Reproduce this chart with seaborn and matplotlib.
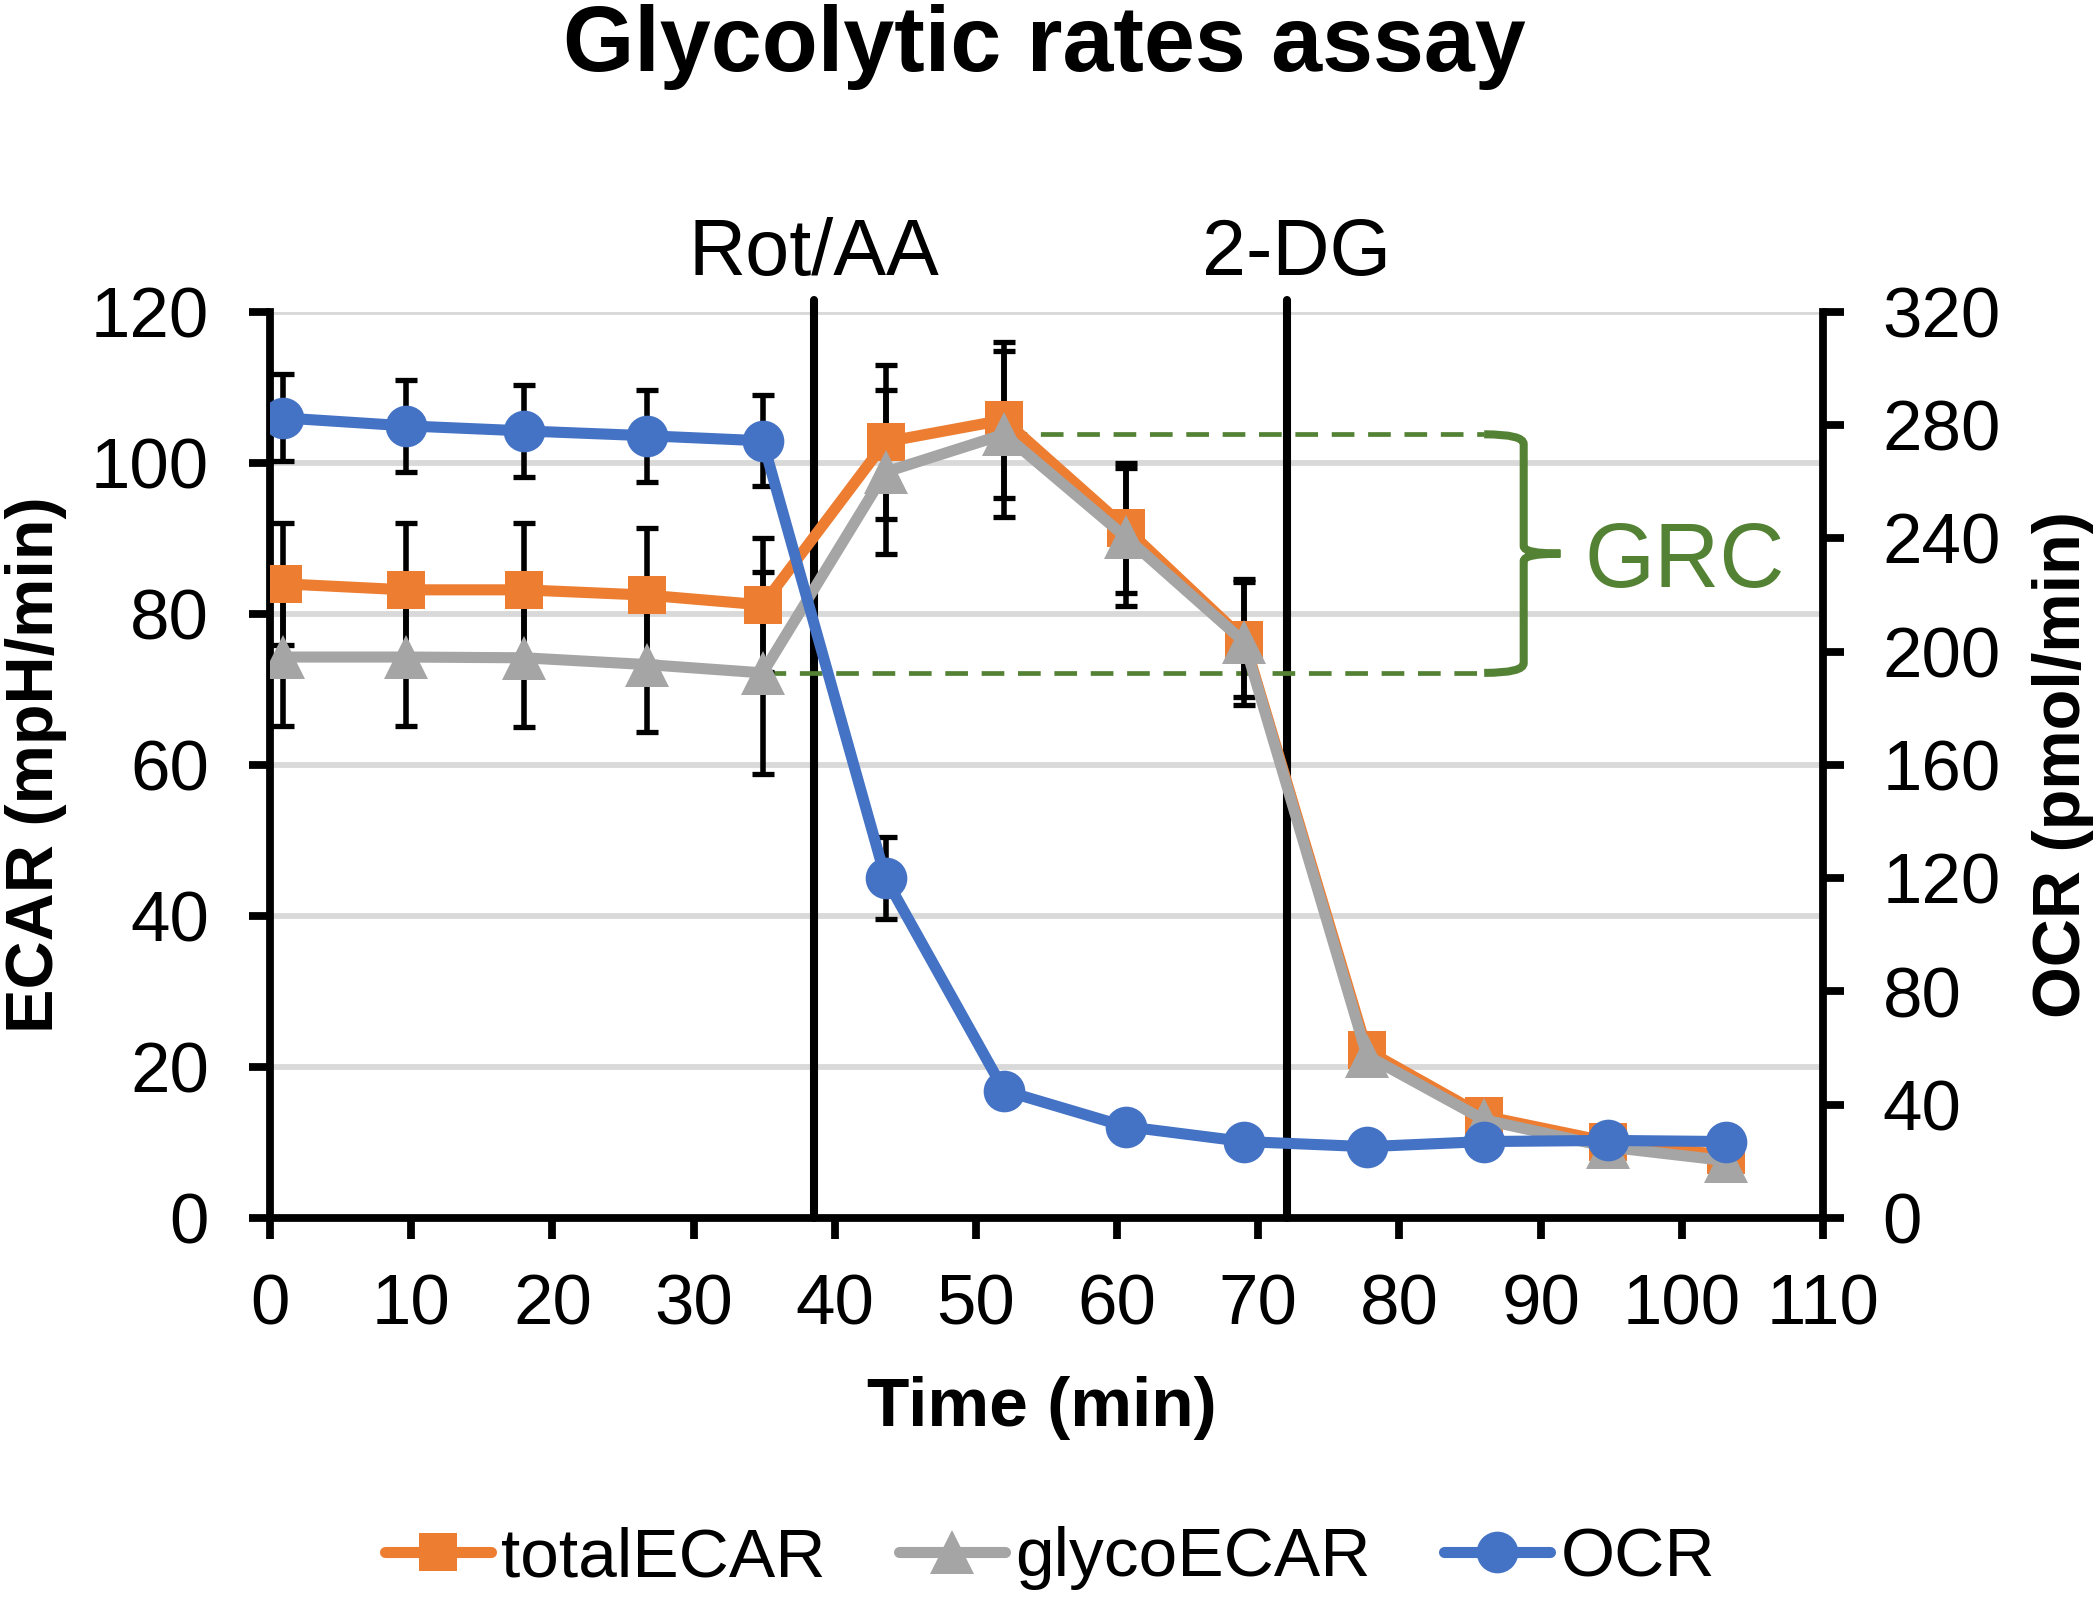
import matplotlib
matplotlib.use("Agg")
import matplotlib.pyplot as plt
import seaborn as sns
from matplotlib.path import Path
from matplotlib.patches import PathPatch
from matplotlib.transforms import blended_transform_factory

# ---------------- data ----------------
time_min = [0.9, 9.6, 18.0, 26.7, 34.9, 43.6, 52.0, 60.6, 69.0, 77.7, 86.0, 94.8, 103.1]
total_ecar = [84.0, 83.2, 83.2, 82.5, 81.2, 102.8, 105.7, 91.4, 76.6, 22.2, 13.5, 10.1, 8.3]
total_ecar_err = [8.1, 8.9, 8.9, 8.9, 8.9, 10.2, 10.3, 8.6, 7.6, 1.5, 1.2, 1.0, 1.0]
glyco_ecar = [74.3, 74.3, 74.2, 73.3, 72.2, 98.8, 103.8, 90.2, 76.3, 21.5, 13.0, 9.4, 7.6]
glyco_ecar_err = [9.2, 9.2, 9.2, 8.9, 13.4, 10.9, 11.0, 9.2, 8.4, 1.5, 1.2, 1.0, 1.0]
ocr = [282.6, 279.8, 278.0, 276.3, 274.5, 120.0, 45.0, 32.3, 27.0, 25.2, 27.0, 27.4, 27.0]
ocr_err = [15.4, 16.3, 16.3, 16.3, 16.1, 14.5, 5.0, 4.0, 3.0, 3.0, 3.0, 3.0, 3.0]

injection_times = [38.5, 72.0]
injection_labels = ["Rot/AA", "2-DG"]
series_names = ["totalECAR", "glycoECAR", "OCR"]
x_ticks = list(range(0, 111, 10))
ecar_ticks = list(range(0, 121, 20))
ocr_ticks = list(range(0, 321, 40))
grc_label = "GRC"
grc_bracket_end = 86.0

# ---------------- style ----------------
sns.set_theme(style="white")
plt.rcParams["font.family"] = ["Liberation Sans", "DejaVu Sans"]

ORANGE = "#ED7D31"
GRAY = "#A5A5A5"
BLUE = "#4472C4"
GREEN = "#548235"

LINE_W = 8.0
ERR_KW = dict(fmt="none", ecolor="black", elinewidth=4.0, capsize=7.8, capthick=3.8,
              zorder=2.5)

W, H = 2100, 1601
fig = plt.figure(figsize=(W / 100, H / 100), dpi=100)
ax = fig.add_axes([270 / W, (H - 1218) / H, (1823 - 270) / W, (1218 - 312) / H])
ax2 = ax.twinx()

# gridlines
ax.set_axisbelow(True)
ax.grid(axis="y", color="#D9D9D9", linewidth=4.2)
ax.grid(axis="x", visible=False)

# injection lines
for t in injection_times:
    ax.axvline(t, ymin=0, ymax=121.6 / 120, color="black", lw=5.8, zorder=2.2,
               clip_on=False)

# error bars ECAR
ax.errorbar(time_min, total_ecar, yerr=total_ecar_err, **ERR_KW)
ax.errorbar(time_min, glyco_ecar, yerr=glyco_ecar_err, **ERR_KW)

# GRC dashed lines and brace
grc_top = glyco_ecar[6]
grc_bot = glyco_ecar[4]
ax.plot([time_min[6], grc_bracket_end], [grc_top, grc_top], color=GREEN, lw=3.4,
        linestyle=(0, (4.8, 2.9)), zorder=2.4)
ax.plot([time_min[4], grc_bracket_end], [grc_bot, grc_bot], color=GREEN, lw=3.4,
        linestyle=(0, (4.8, 2.9)), zorder=2.4)
xv, xt = 88.8, 91.4
ymid = (grc_top + grc_bot) / 2
verts = [(grc_bracket_end, grc_top), (xv, grc_top), (xv, grc_top - 1.3),
         (xv, ymid + 1.0), (xv, ymid), (xt, ymid),
         (xv, ymid), (xv, ymid - 1.0),
         (xv, grc_bot + 1.3), (xv, grc_bot), (grc_bracket_end, grc_bot)]
codes = [Path.MOVETO, Path.CURVE3, Path.CURVE3,
         Path.LINETO, Path.CURVE3, Path.CURVE3,
         Path.CURVE3, Path.CURVE3,
         Path.LINETO, Path.CURVE3, Path.CURVE3]
ax.add_patch(PathPatch(Path(verts, codes), facecolor="none", edgecolor=GREEN, lw=5.8,
                       capstyle="butt", joinstyle="miter", zorder=2.4))
ax.text(93.1, 83.6, grc_label, color=GREEN, fontsize=65, ha="left", va="baseline")

# ECAR lines
sns.lineplot(x=time_min, y=total_ecar, ax=ax, color=ORANGE, marker="s",
             legend=False, errorbar=None, zorder=3)
line_total = ax.lines[-1]
sns.lineplot(x=time_min, y=glyco_ecar, ax=ax, color=GRAY, marker="^",
             legend=False, errorbar=None, zorder=3.5)
line_glyco = ax.lines[-1]

# OCR on secondary axis
ax2.errorbar(time_min, ocr, yerr=ocr_err, **ERR_KW)
sns.lineplot(x=time_min, y=ocr, ax=ax2, color=BLUE, marker="o",
             legend=False, errorbar=None, zorder=3)
line_ocr = ax2.lines[-1]

for ln, col, msize in ((line_total, ORANGE, 28), (line_glyco, GRAY, 32), (line_ocr, BLUE, 30)):
    ln.set_linewidth(LINE_W)
    ln.set_markersize(msize)
    ln.set_markeredgewidth(0)
    ln.set_markerfacecolor(col)
    ln.set_markeredgecolor(col)
    ln.set_solid_joinstyle("round")
    ln.set_solid_capstyle("round")

# axes limits and ticks
ax.set_xlim(0, 110)
ax.set_ylim(0, 120)
ax2.set_ylim(0, 320)
ax.set_xticks(x_ticks)
ax.set_yticks(ecar_ticks)
ax2.set_yticks(ocr_ticks)

for s in ["top", "right"]:
    ax.spines[s].set_visible(False)
for s in ["left", "bottom"]:
    ax.spines[s].set_color("black")
    ax.spines[s].set_linewidth(5.6)
for s in ["top", "left", "bottom"]:
    ax2.spines[s].set_visible(False)
ax2.spines["right"].set_color("black")
ax2.spines["right"].set_linewidth(5.6)

ax.tick_params(axis="x", direction="out", length=15, width=5.6, color="black",
               labelsize=51, labelcolor="black", pad=25, bottom=True)
ax.tick_params(axis="y", direction="out", length=15, width=5.6, color="black",
               labelsize=51, labelcolor="black", pad=29, left=True)
ax2.tick_params(axis="y", direction="out", length=15, width=5.6, color="black",
                labelsize=51, labelcolor="black", pad=28, right=True)

# axis labels
xl = ax.set_xlabel("Time (min)", fontsize=50, fontweight="bold", color="black")
xl.set_va("baseline")
ax.xaxis.set_label_coords((1042 - 270) / 1553, (1218 - 1426) / 906)
yl = ax.set_ylabel("ECAR (mpH/min)", fontsize=48, fontweight="bold", color="black")
yl.set_va("baseline")
ax.yaxis.set_label_coords((53 - 270) / 1553, 0.5)
yl2 = ax2.set_ylabel("OCR (pmol/min)", fontsize=48, fontweight="bold", color="black",
                     rotation=90)
yl2.set_va("baseline")
ax2.yaxis.set_label_coords((2080 - 270) / 1553, 0.5)

# injection labels
trans = blended_transform_factory(ax.transData, fig.transFigure)
ax.text(injection_times[0], 1 - 275 / H, injection_labels[0], transform=trans,
        fontsize=57, ha="center", va="baseline", color="black")
ax.text(injection_times[1] + 0.7, 1 - 275 / H, injection_labels[1], transform=trans,
        fontsize=57, ha="center", va="baseline", color="black")

# title
fig.text(1044 / W, 1 - 71 / H, "Glycolytic rates assay", fontsize=66, fontweight="bold",
         ha="center", va="baseline", color="black")

# legend
fig.legend([line_total, line_glyco, line_ocr], series_names, loc="center",
           bbox_to_anchor=(1050 / W, 1 - 1558 / H), ncol=3, frameon=False,
           fontsize=50, handlelength=1.53, handletextpad=0.15, columnspacing=1.05,
           labelcolor="black")

fig.savefig("out.png", dpi=100)
